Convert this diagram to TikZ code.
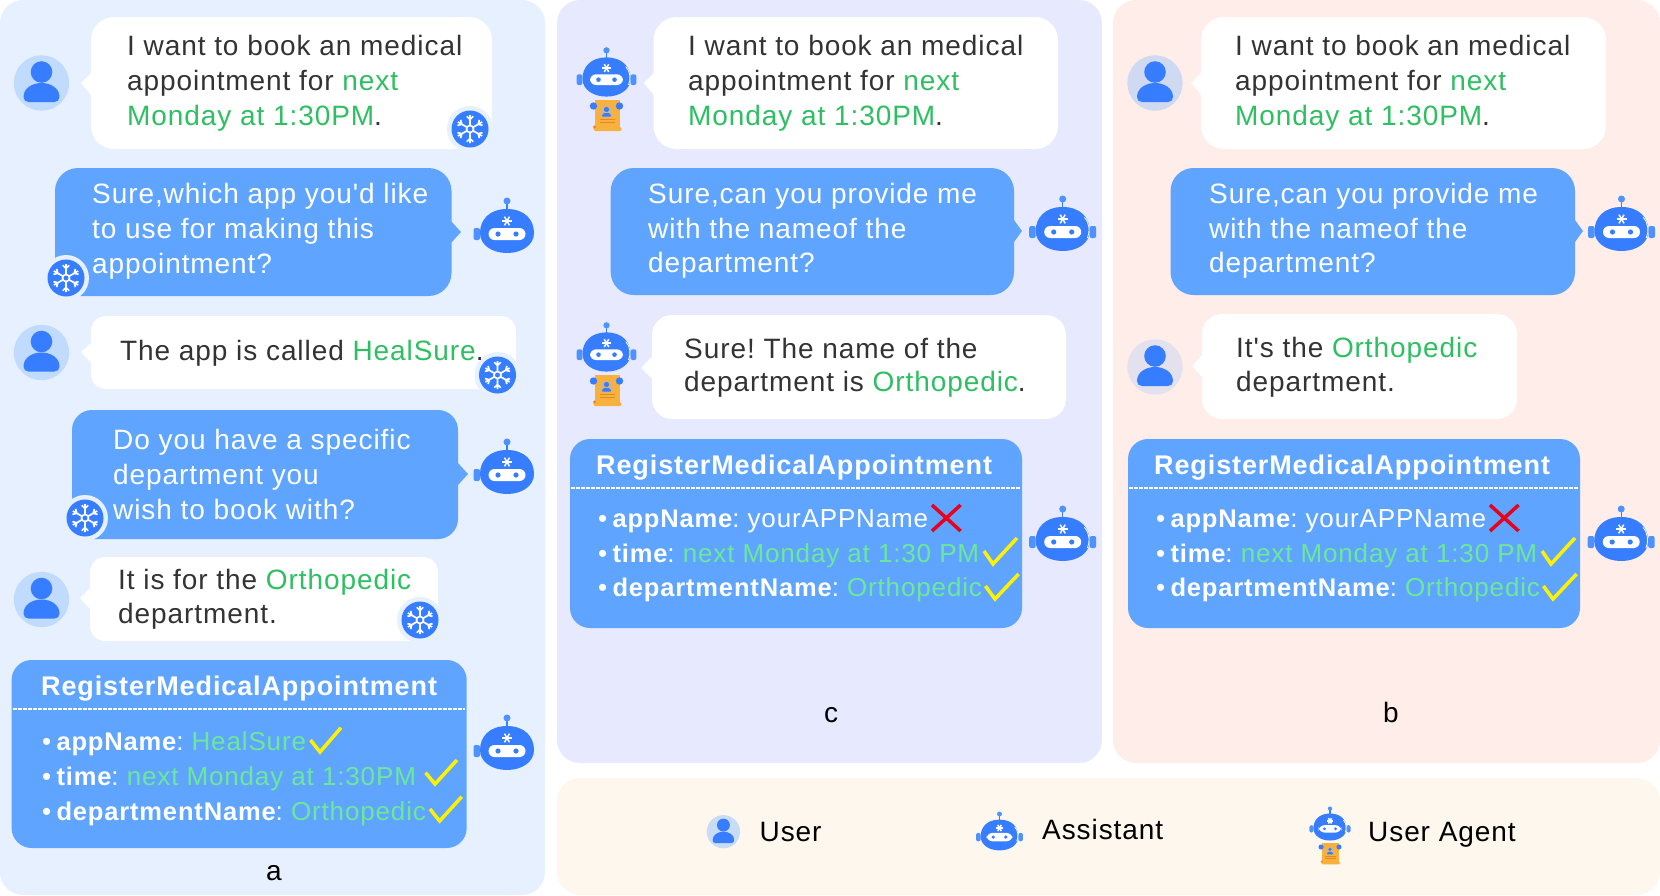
\documentclass[tikz,border=0pt]{standalone}
\usepackage{fontspec}
\setmainfont[LetterSpace=3.3,Ligatures=TeXOff]{Liberation Sans}
\usetikzlibrary{positioning}
\definecolor{PanelA}{HTML}{E6F0FE}
\definecolor{PanelC}{HTML}{E7E9FE}
\definecolor{PanelB}{HTML}{FEEDE8}
\definecolor{PanelKey}{HTML}{FEF7EE}
\definecolor{BubbleBlue}{HTML}{5FA5FF}
\definecolor{IconBlue}{HTML}{377DFF}
\definecolor{EarBlue}{HTML}{4E92FF}
\definecolor{SlotGreen}{HTML}{2FBF63}
\definecolor{CardGreen}{HTML}{6CE89A}
\definecolor{InkGrey}{HTML}{333333}
\definecolor{TickYellow}{HTML}{FFF200}
\definecolor{CrossRed}{HTML}{E8001C}
\definecolor{ScrollOrange}{HTML}{F8B13D}
\definecolor{ScrollLine}{HTML}{E88A1A}
\definecolor{ScrollBadge}{HTML}{D9B27C}
\definecolor{AvatarA}{HTML}{C0DBFE}
\definecolor{AvatarB}{HTML}{CFD9F2}
\definecolor{AvatarBtwo}{HTML}{E3E1EE}
\definecolor{AvatarKey}{HTML}{C9DCF5}
\newcommand{\slot}[1]{\textcolor{SlotGreen}{#1}}
\newcommand{\cardslot}[1]{\textcolor{CardGreen}{#1}}
\newcommand{\cardkey}[1]{{\fontsize{25.5}{34.7}\selectfont\bfseries #1}}
\newcommand{\carddot}{\textbullet\hspace{.2em}}
\newcommand{\botbody}{
  \fill[EarBlue, rounded corners=2pt] (-33.5,-3) rectangle (-27,9);
  \draw[IconBlue, line width=1.3pt] (0,-20) -- (0,-28);
  \fill[EarBlue] (0,-30) circle (3.5pt);
  \fill[IconBlue] (0,-22) .. controls (18,-22) and (27,-11) .. (27,2) .. controls (27,14) and (15,22) .. (0,22)
    .. controls (-15,22) and (-27,14) .. (-27,2) .. controls (-27,-11) and (-18,-22) .. (0,-22) -- cycle;
  \fill[white, rounded corners=6pt] (-18.5,-3) rectangle (18.5,9);
  \fill[IconBlue] (-9,3) circle (2.6pt) (9,3) circle (2.6pt);
  \foreach \spoke in {0,60,120}
    \draw[white, line width=1.5pt] (0,-10) ++(\spoke:5) -- ++(\spoke+180:10);
}
\newcommand{\botside}{
  \fill[EarBlue, rounded corners=2pt] (27,-3) rectangle (33.5,9);
  \draw[white, line width=.8pt] (21.7,-11.6) .. controls (27,-6) and (27.5,3) .. (24.7,9);
}
\tikzset{
  panel/.style={rounded corners=23pt},
  whitebubble/.style={fill=white, rounded corners=#1},
  bluebubble/.style={fill=BubbleBlue, rounded corners=#1},
  bubbletext/.style={inner sep=0pt, anchor=base west, align=left, font=\fontsize{28}{34.7}\selectfont},
  darktext/.style={bubbletext, text=InkGrey},
  lighttext/.style={bubbletext, text=white},
  shorttext/.style={font=\fontsize{28}{33.5}\selectfont},
  cardtitle/.style={lighttext, font=\fontsize{27}{34.7}\selectfont\bfseries},
  carditems/.style={lighttext, font=\fontsize{26}{34.7}\selectfont},
  keytext/.style={inner sep=0pt, anchor=base west, font=\fontsize{28}{34.7}\selectfont},
  captiontext/.style={inner sep=0pt, anchor=base, font=\fontsize{28}{34.7}\selectfont},
  tick/.style={draw=TickYellow, line width=3.5pt},
  cross/.style={draw=CrossRed, line width=3.5pt},
  pics/avatar/.style={code={
    \fill[#1] (0,0) circle (27.7pt);
    \fill[IconBlue] (0,-11) circle (10.8pt);
    \fill[IconBlue] (-18,14) .. controls (-18,5) and (-9,0) .. (0,0) .. controls (9,0) and (18,5) .. (18,14)
      .. controls (18,17) and (16,19) .. (13,19) -- (-13,19) .. controls (-16,19) and (-18,17) .. (-18,14) -- cycle;
  }},
  pics/botplain/.style={code={\botbody}},
  pics/bot/.style={code={\botbody \botside}},
  pics/agent/.style={code={
    \fill[ScrollOrange] (-12,23) rectangle (13,53);
    \fill[ScrollOrange, rounded corners=1.5pt] (-13,50) rectangle (15,54);
    \fill[ScrollLine] (-12,50) circle (1.6pt);
    \fill[IconBlue] (-13,29) circle (3.7pt) (13,29) circle (3.7pt);
    \fill[ScrollBadge] (0,35) circle (6.5pt);
    \fill[IconBlue] (0,32.5) circle (2.6pt);
    \fill[IconBlue, rounded corners=1pt] (-5,39.5) -- (-3,36) -- (3,36) -- (5,39.5) -- cycle;
    \draw[ScrollLine, line width=.8pt] (-7,42.3) -- (8,42.3) (-7,45.3) -- (8,45.3);
    \begin{scope}[scale=.89]
      \botbody \botside
    \end{scope}
  }},
  pics/flake/.style={code={
    \fill[#1] (0,0) circle (23pt);
    \fill[IconBlue] (0,0) circle (18.5pt);
    \draw[white, line width=1.6pt] (0,0) circle (3.5pt);
    \foreach \spoke in {30,90,...,330}
      \draw[white, line width=1.7pt] (\spoke:3.5) -- (\spoke:14)
        (\spoke:9.5) ++(\spoke+45:4.5) -- (\spoke:9.5) -- ++(\spoke-45:4.5);
  }}
}
\begin{document}
\frenchspacing
\begin{tikzpicture}[x=1pt, y=-1pt]
  \useasboundingbox (0,0) rectangle (1660,895);
  \fill[PanelA, panel] (0,0) rectangle (545,895);
  \fill[PanelC, panel] (557,0) rectangle (1102,763);
  \fill[PanelB, panel] (1113,0) rectangle (1660,763);
  \fill[PanelKey, panel] (557,778) rectangle (1660,895);

  \pic at (41.5,83) {avatar=AvatarA};
  \fill[whitebubble=23pt] (91,17) rectangle (492,149);
  \fill[white] (91,73) -- (81,83) -- (91,95) -- cycle;
  \pic at (470,129) {flake=PanelA};
  \node[darktext] (askA) at (127,125.3) {I want to book an medical\\appointment for \slot{next}\\\slot{Monday at 1:30PM}.};

  \fill[bluebubble=23pt] (55,168) rectangle (451.5,296);
  \fill[BubbleBlue] (451,221) -- (461,232) -- (451,243) -- cycle;
  \pic at (66,278) {flake=PanelA};
  \node[lighttext] (whichApp) at (92,273) {Sure,which app you'd like\\to use for making this\\appointment?};
  \pic at (507,231) {botplain};

  \pic at (41.5,352.5) {avatar=AvatarA};
  \fill[whitebubble=15pt] (91,316) rectangle (516,389);
  \fill[white] (91,343) -- (81,352) -- (91,363) -- cycle;
  \pic at (497.5,375) {flake=PanelA};
  \node[darktext] (appCalled) at (120,360) {The app is called \slot{HealSure}.};

  \fill[bluebubble=20pt] (72,410) rectangle (458,539);
  \fill[BubbleBlue] (458,463) -- (468,474) -- (458,485) -- cycle;
  \pic at (85,518) {flake=PanelA};
  \node[lighttext] (whichDept) at (113,519) {Do you have a specific\\department you\\wish to book with?};
  \pic at (507,472) {botplain};

  \pic at (41.5,599.5) {avatar=AvatarA};
  \fill[whitebubble=15pt] (90,557) rectangle (438,641);
  \fill[white] (90,588) -- (80,598) -- (90,609) -- cycle;
  \pic at (420,620) {flake=PanelA};
  \node[darktext, shorttext] (forDept) at (118,623) {It is for the \slot{Orthopedic}\\department.};

  \fill[bluebubble=20pt] (11.6,660) rectangle (466.7,848);
  \node[cardtitle] (cardAtitle) at (41,695.7) {RegisterMedicalAppointment};
  \draw[white, line width=1.5pt, dash pattern=on 3.5pt off 1.5pt] (13,709) -- (465,709);
  \node[carditems] (cardAitems) at (42,820) {\carddot\cardkey{appName}: \cardslot{HealSure}\\\carddot\cardkey{time}: \cardslot{next Monday at 1:30PM}\\\carddot\cardkey{departmentName}: \cardslot{Orthopedic}};
  \draw[tick] (310.5,740) -- (320,752) -- (341,727.7);
  \draw[tick] (425.6,772.7) -- (435,784) -- (457,760);
  \draw[tick] (430,809) -- (439.6,821) -- (461.7,796.7);
  \pic at (507,748) {botplain};
  \node[captiontext] (captionA) at (274,880) {a};

  \pic at (606.5,77) {agent};
  \fill[whitebubble=23pt] (653.6,17) rectangle (1058,149);
  \fill[white] (654,73) -- (643.6,83) -- (654,95) -- cycle;
  \node[darktext] (askC) at (688,125.3) {I want to book an medical\\appointment for \slot{next}\\\slot{Monday at 1:30PM}.};

  \fill[bluebubble=23pt] (610.7,168) rectangle (1014,295);
  \fill[BubbleBlue] (1014,220) -- (1022,231) -- (1014,242) -- cycle;
  \node[lighttext] (whichDeptC) at (648,272.7) {Sure,can you provide me\\with the nameof the\\department?};
  \pic at (1062.7,229) {bot};

  \pic at (606.5,352) {agent};
  \fill[whitebubble=20pt] (652,315) rectangle (1066,419);
  \fill[white] (652,357) -- (641,367.7) -- (652,379) -- cycle;
  \node[darktext, shorttext] (deptC) at (684,391.7) {Sure! The name of the\\department is \slot{Orthopedic}.};

  \pic at (1155,83) {avatar=AvatarB};
  \fill[whitebubble=23pt] (1201,17) rectangle (1606,149);
  \fill[white] (1201,73) -- (1191,83) -- (1201,95) -- cycle;
  \node[darktext] (askB) at (1235,125.3) {I want to book an medical\\appointment for \slot{next}\\\slot{Monday at 1:30PM}.};

  \fill[bluebubble=23pt] (1170.5,168) rectangle (1575,295);
  \fill[BubbleBlue] (1575,220) -- (1583,231) -- (1575,242) -- cycle;
  \node[lighttext] (whichDeptB) at (1209,272.7) {Sure,can you provide me\\with the nameof the\\department?};
  \pic at (1621.5,229) {bot};

  \pic at (1155,367) {avatar=AvatarBtwo};
  \fill[whitebubble=20pt] (1202,314) rectangle (1517,419);
  \fill[white] (1202,355) -- (1192,366) -- (1202,377) -- cycle;
  \node[darktext, shorttext] (deptB) at (1236,391) {It's the \slot{Orthopedic}\\department.};

  \foreach \cardname/\cardshift/\botshift in {cardC/0/0, cardB/558/558.5}{
    \begin{scope}[xshift=\cardshift pt]
      \fill[bluebubble=20pt] (570,439) rectangle (1022,628);
      \node[cardtitle] (\cardname title) at (596,474) {RegisterMedicalAppointment};
      \draw[white, line width=1.5pt, dash pattern=on 3.5pt off 1.5pt] (571,488) -- (1021,488);
      \node[carditems] (\cardname items) at (598,596.7) {\carddot\cardkey{appName}: yourAPPName\\\carddot\cardkey{time}: \cardslot{next Monday at 1:30 PM}\\\carddot\cardkey{departmentName}: \cardslot{Orthopedic}};
      \draw[cross] (932,505) -- (960.6,531) (960.6,505) -- (932,531);
      \draw[tick] (984,551) -- (993,564) -- (1017,538);
      \draw[tick] (985.4,586) -- (995,599) -- (1018.6,574);
    \end{scope}
    \pic at (1062.7+\botshift,539) {bot};
  }
  \node[captiontext] (captionC) at (831,722.7) {c};
  \node[captiontext] (captionB) at (1391,722.7) {b};

  \pic[scale=.6] at (723.4,831.7) {avatar=AvatarKey};
  \node[keytext] (keyUser) at (759.5,841) {User};
  \pic[scale=.7] at (999.5,835) {bot};
  \node[keytext] (keyAssistant) at (1042,839) {Assistant};
  \pic[scale=.69] at (1330,827) {agent};
  \node[keytext] (keyAgent) at (1368,841) {User Agent};
\end{tikzpicture}
\end{document}
